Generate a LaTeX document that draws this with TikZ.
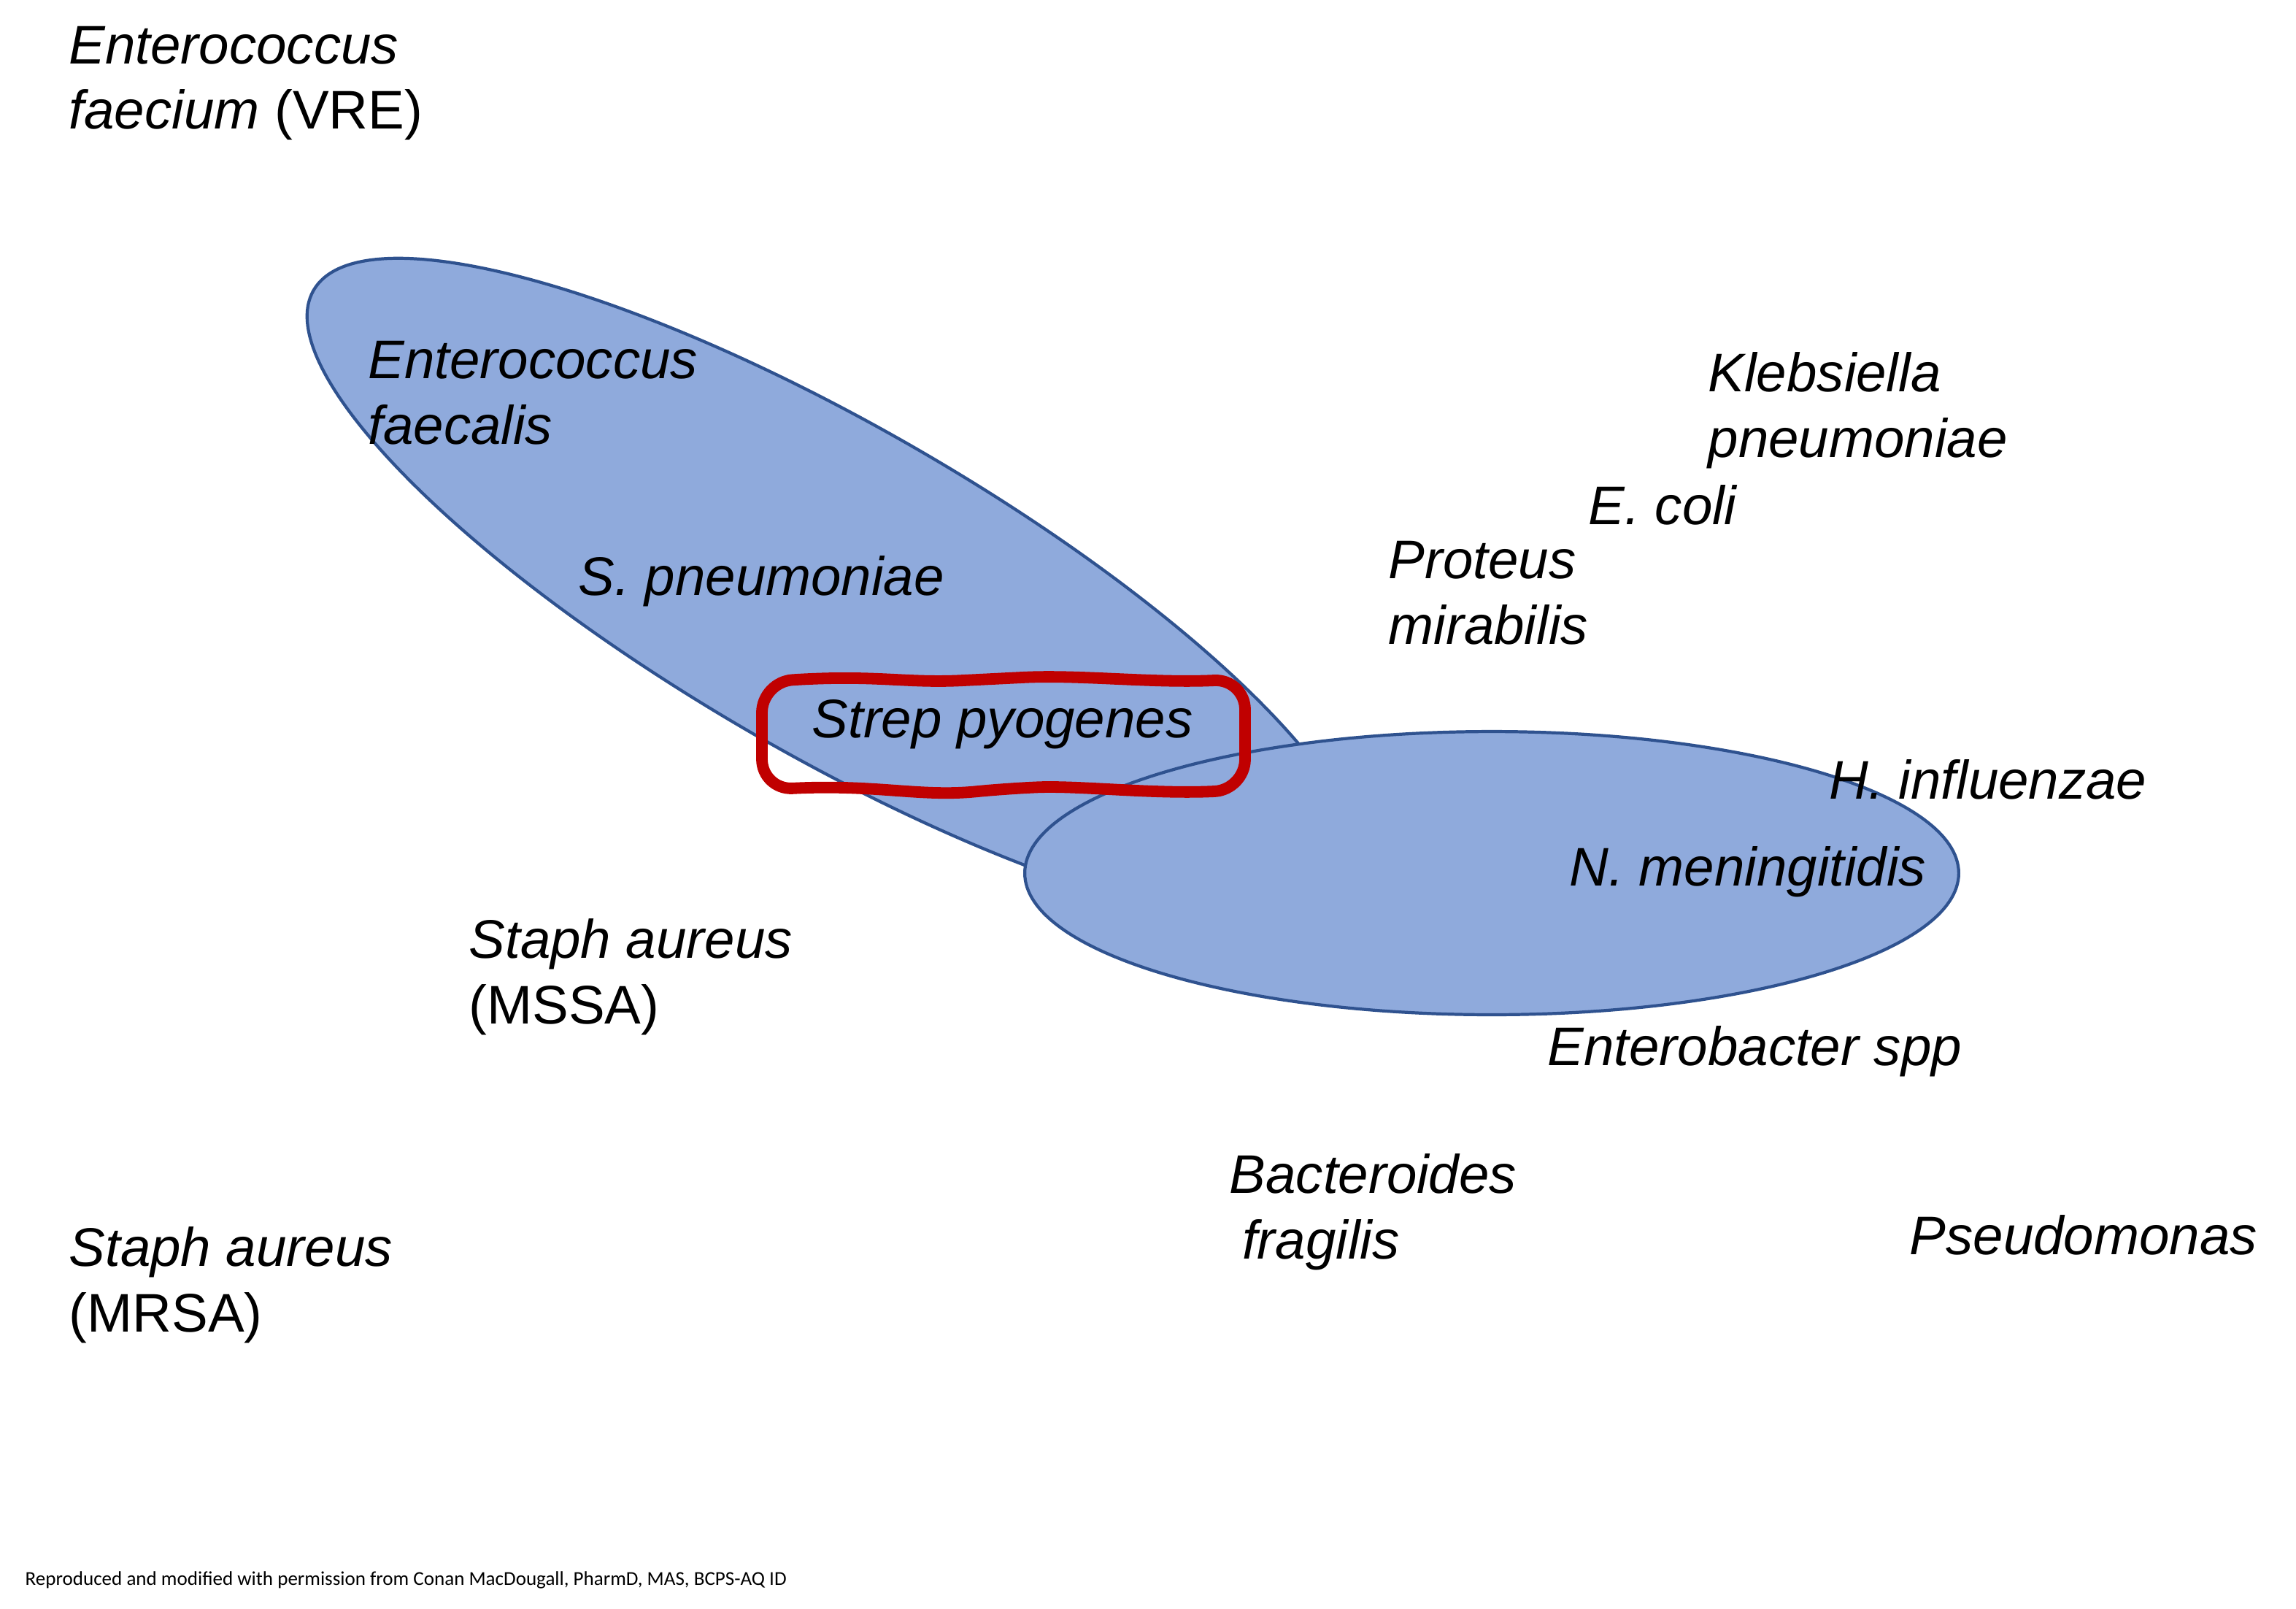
\documentclass[tikz,border=0pt]{standalone}
\usepackage{fontspec}
\setmainfont{Liberation Sans}
\newfontfamily\notefont{Carlito}
\definecolor{ellfill}{HTML}{8FAADC}
\definecolor{elldraw}{HTML}{2F528F}
\definecolor{boxred}{HTML}{C00000}
\begin{document}
\begin{tikzpicture}[x=0.02cm,y=-0.02cm,
  lab/.style={anchor=west,align=left,inner sep=0pt,font=\fontsize{21.2}{25.5}\selectfont},
  ell/.style={fill=ellfill,draw=elldraw,line width=1.2pt}]
\useasboundingbox (0,0) rectangle (1573,1101.5);
\fill[white] (0,0) rectangle (1573,1101.5);
\path[ell] (572,405) coordinate (c1) ellipse [x radius=8.25cm,y radius=2.25cm,rotate=-30];
\path[ell] (1022,598) coordinate (c2) ellipse [x radius=6.4cm,y radius=1.94cm];
\draw[boxred,line width=4.5pt,rounded corners=12]
  (522,467) .. controls (600,462) and (620,468) .. (680,465) .. controls (740,462) and (790,468) .. (853,465)
  -- (853,541) .. controls (790,544) and (740,538) .. (690,540) .. controls (630,546) and (600,537) .. (522,541) -- cycle;
\node[lab] (vre) at (47,57) {\textit{Enterococcus}\\\textit{faecium} (VRE)};
\node[lab] (efs) at (252,269) {\textit{Enterococcus}\\\textit{faecalis}};
\node[lab] (spn) at (396,398) {\textit{S. pneumoniae}};
\node[lab] (spy) at (556,496) {\textit{Strep pyogenes}};
\node[lab] (kle) at (1170,281) {\textit{Klebsiella}\\\textit{pneumoniae}};
\node[lab] (eco) at (1088,346) {\textit{E. coli}};
\node[lab] (pro) at (951,406) {\textit{Proteus}\\\textit{mirabilis}};
\node[lab] (hin) at (1253,534) {\textit{H. influenzae}};
\node[lab] (nme) at (1075,597) {\textit{N. meningitidis}};
\node[lab] (mssa) at (321,669) {\textit{Staph aureus}\\(MSSA)};
\node[lab] (ent) at (1060,720) {\textit{Enterobacter spp}};
\node[lab] (bac) at (842,830) {\textit{Bacteroides}\\\hspace{5pt}\textit{fragilis}};
\node[lab] (pse) at (1308,846) {\textit{Pseudomonas}};
\node[lab] (mrsa) at (47,880) {\textit{Staph aureus}\\(MRSA)};
\node[anchor=west,inner sep=0pt,font=\notefont\fontsize{7.7}{10}\selectfont] (note) at (17,1082) {Reproduced and modified with permission from Conan MacDougall, PharmD, MAS, BCPS-AQ ID};
\end{tikzpicture}
\end{document}
